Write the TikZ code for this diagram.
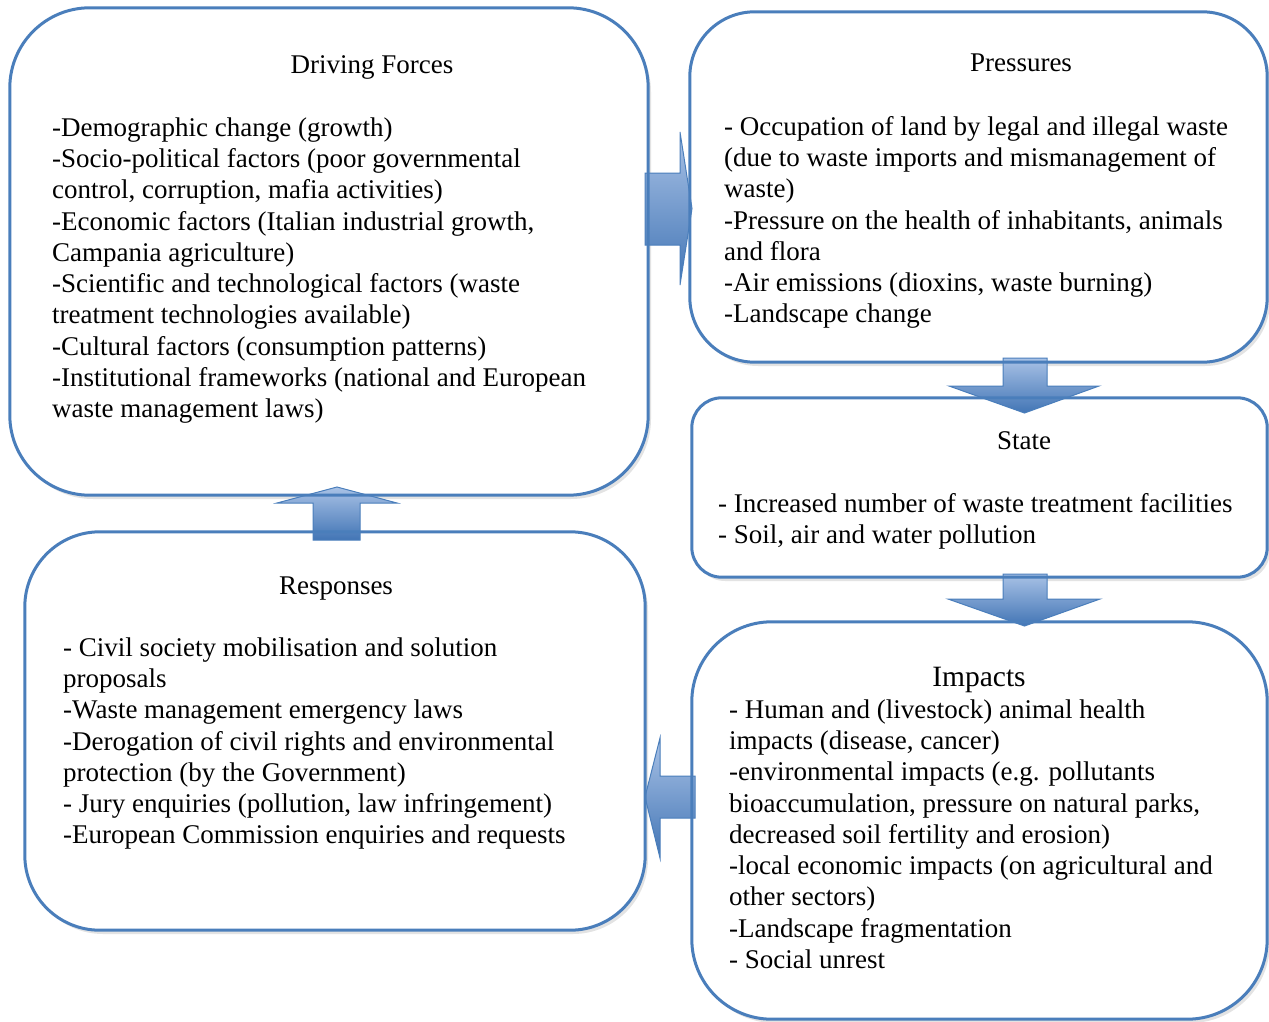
\documentclass[tikz,border=0pt]{standalone}
\usepackage{fontspec}
\setmainfont{Liberation Serif}
\usetikzlibrary{shadows}
\definecolor{boxblue}{HTML}{4A7EBB}
\definecolor{arrlight}{HTML}{A9C2E6}
\definecolor{arrdark}{HTML}{4275B5}
\begin{document}
\begin{tikzpicture}[x=1pt,y=-1pt,
  boxfill/.style={fill=white,draw=none,inner sep=0,
    drop shadow={shadow xshift=3pt,shadow yshift=-4pt,fill=black!22}},
  boxline/.style={draw=boxblue,line width=3pt},
  blockarrow/.style={top color=arrlight,bottom color=arrdark,draw=boxblue,line width=1pt},
  body/.style={anchor=north west,align=left,inner sep=0,font=\fontsize{27}{31.3}\selectfont},
  title/.style={anchor=base,inner sep=0,font=\fontsize{27}{31.3}\selectfont}]
\useasboundingbox (0,0) rectangle (1269,1022);
% boxes (fill + shadow)
\node[boxfill,rounded corners=80,minimum width=638,minimum height=487] (df) at (329,251.5) {};
\node[boxfill,rounded corners=65,minimum width=577,minimum height=350] (pr) at (978.5,187) {};
\node[boxfill,rounded corners=30,minimum width=575,minimum height=179] (st) at (979.5,487.5) {};
\node[boxfill,rounded corners=80,minimum width=575,minimum height=397] (im) at (979.5,820.5) {};
\node[boxfill,rounded corners=75,minimum width=620,minimum height=398] (re) at (335,731) {};
% block arrows
\path[blockarrow] ([xshift=-3pt]df.east |- 0,173) -- (680,173) -- (680,132) -- (692,208.5) -- (680,285) -- (680,245) -- ([xshift=-3pt]df.east |- 0,245) -- cycle;
\path[blockarrow] (1003,358) -- (1047,358) -- (1047,386) -- (1099,386) -- (1024.5,413) -- (949,386) -- (1003,386) -- cycle;
\path[blockarrow] (1003,574) -- (1047,574) -- (1047,599) -- (1100,599) -- (1024.5,626) -- (948,599) -- (1003,599) -- cycle;
\path[blockarrow] (313,540) -- (360,540) -- (360,503) -- (397,503) -- (337,487) -- (277,503) -- (313,503) -- cycle;
\path[blockarrow] (695,776) -- (660,776) -- (660,738) -- (645,797) -- (660,858) -- (660,818) -- (695,818) -- cycle;
% borders
\draw[boxline,rounded corners=80] (df.north west) rectangle (df.south east);
\draw[boxline,rounded corners=65] (pr.north west) rectangle (pr.south east);
\draw[boxline,rounded corners=30] (st.north west) rectangle (st.south east);
\draw[boxline,rounded corners=80] (im.north west) rectangle (im.south east);
\draw[boxline,rounded corners=75] (re.north west) rectangle (re.south east);
% titles
\node[title] (dft) at (372,74) {Driving Forces};
\node[title] (prt) at (1021,72) {Pressures};
\node[title] (stt) at (1024,449) {State};
\node[title,font=\fontsize{29.5}{31.3}\selectfont] (imt) at (979,686) {Impacts};
\node[title] (ret) at (336,594) {Responses};
% bodies
\node[body] (dfb) at (52,114) {\strut-Demographic change (growth)\\
-Socio-political factors (poor governmental\\
control, corruption, mafia activities)\\
-Economic factors (Italian industrial growth,\\
Campania agriculture)\\
-Scientific and technological factors (waste\\
treatment technologies available)\\
-Cultural factors (consumption patterns)\\
-Institutional frameworks (national and European\\
waste management laws)};
\node[body] (prb) at (724,113) {\strut- Occupation of land by legal and illegal waste\\
(due to waste imports and mismanagement of\\
waste)\\
-Pressure on the health of inhabitants, animals\\
and flora\\
-Air emissions (dioxins, waste burning)\\
-Landscape change};
\node[body] (stb) at (718,490) {\strut- Increased number of waste treatment facilities\\
- Soil, air and water pollution};
\node[body] (imb) at (729,696) {\strut- Human and (livestock) animal health\\
impacts (disease, cancer)\\
-environmental impacts (e.g. pollutants\\
bioaccumulation, pressure on natural parks,\\
decreased soil fertility and erosion)\\
-local economic impacts (on agricultural and\\
other sectors)\\
-Landscape fragmentation\\
- Social unrest};
\node[body] (reb) at (63,634) {\strut- Civil society mobilisation and solution\\
proposals\\
-Waste management emergency laws\\
-Derogation of civil rights and environmental\\
protection (by the Government)\\
- Jury enquiries (pollution, law infringement)\\
-European Commission enquiries and requests};
\end{tikzpicture}
\end{document}
